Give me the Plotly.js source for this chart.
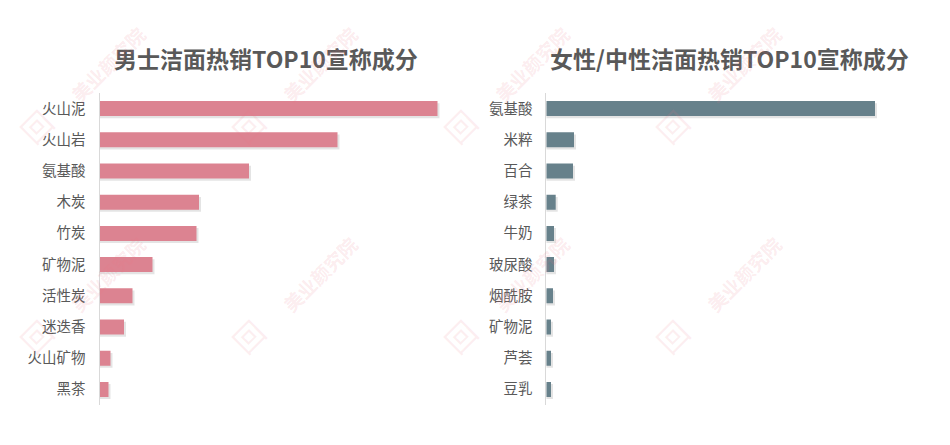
<!DOCTYPE html>
<html>
<head>
<meta charset="utf-8">
<script src="https://cdn.plot.ly/plotly-3.0.1.min.js"></script>
<style>html,body{margin:0;padding:0;background:#fff;}#chart{width:950px;height:445px;}</style>
</head>
<body>
<div id="chart"></div>
<script>
// Left chart: men's facial cleanser top-10 claimed ingredients
const menCategories = ["火山泥", "火山岩", "氨基酸", "木炭", "竹炭", "矿物泥", "活性炭", "迷迭香", "火山矿物", "黑茶"];
const menValues = [338, 238, 149.5, 99.5, 97, 53, 33, 24.5, 11, 9];

// Right chart: women's / unisex facial cleanser top-10 claimed ingredients
const womenCategories = ["氨基酸", "米粹", "百合", "绿茶", "牛奶", "玻尿酸", "烟酰胺", "矿物泥", "芦荟", "豆乳"];
const womenValues = [328.7, 27.7, 26.7, 9.4, 7.7, 7.7, 6.7, 4.7, 4.7, 4.7];

const titles = ["男士洁面热销TOP10宣称成分", "女性/中性洁面热销TOP10宣称成分"];
const watermarkText = "美业颜究院";

const W = 950, H = 445;
const px = v => v / W, py = v => 1 - v / H;

const pink = "#dc8391", teal = "#67818b";
const barW = 0.48;
const shadowShift = 0.07;

function shadowTrace(cats, vals, xa, ya) {
  return {
    type: "bar", orientation: "h", y: cats, x: vals.map(v => v + 2),
    xaxis: xa, yaxis: ya, width: barW, offset: -barW / 2 + shadowShift,
    marker: {color: "rgba(90,90,90,0.16)"}, hoverinfo: "skip", showlegend: false
  };
}
function mainTrace(cats, vals, xa, ya, color) {
  return {
    type: "bar", orientation: "h", y: cats, x: vals,
    xaxis: xa, yaxis: ya, width: barW, offset: -barW / 2,
    marker: {color: color}, showlegend: false
  };
}

const data = [
  shadowTrace(menCategories, menValues, "x", "y"),
  mainTrace(menCategories, menValues, "x", "y", pink),
  shadowTrace(womenCategories, womenValues, "x2", "y2"),
  mainTrace(womenCategories, womenValues, "x2", "y2", teal)
];

const tickFont = {family: "Noto Sans CJK SC, sans-serif", size: 14.5, color: "#595959"};
const yCommon = {
  type: "category", autorange: "reversed", showline: true, linecolor: "#d9d9d9", linewidth: 1,
  showgrid: false, zeroline: false, ticks: "", ticklabelstandoff: 10, tickfont: tickFont,
  domain: [py(405), py(93)], fixedrange: true
};
const xCommon = {showgrid: false, zeroline: false, showline: false, showticklabels: false, ticks: "", fixedrange: true};

const titleFont = {family: "Noto Sans CJK SC, sans-serif", size: 23, color: "#595959"};
const annotations = [
  {text: "<b>" + titles[0] + "</b>", x: px(266), y: py(58), xref: "paper", yref: "paper", showarrow: false,
   xanchor: "center", yanchor: "middle", font: titleFont},
  {text: "<b>" + titles[1] + "</b>", x: px(729), y: py(58), xref: "paper", yref: "paper", showarrow: false,
   xanchor: "center", yanchor: "middle", font: titleFont}
];

// faint diagonal watermarks (only those fully inside the picture)
const wmCols = [94, 306, 518, 730];
const wmRows = [70, 280];
wmRows.forEach(r => wmCols.forEach(c => {
  annotations.push({text: "<b>" + watermarkText + "</b>", x: px(c + 13), y: py(r - 6), xref: "paper", yref: "paper",
    showarrow: false, textangle: -45, xanchor: "center", yanchor: "middle",
    font: {family: "Noto Sans CJK SC, sans-serif", size: 19, color: "rgba(236,120,135,0.15)"}});
  annotations.push({text: "回", x: px(c - 58), y: py(r + 56), xref: "paper", yref: "paper",
    showarrow: false, textangle: -45, xanchor: "center", yanchor: "middle",
    font: {family: "Noto Sans CJK SC, sans-serif", size: 30, color: "rgba(236,120,135,0.13)"}});
}));

const layout = {
  width: W, height: H, margin: {l: 0, r: 0, t: 0, b: 0},
  paper_bgcolor: "#ffffff", plot_bgcolor: "rgba(0,0,0,0)",
  barmode: "overlay",
  xaxis: Object.assign({}, xCommon, {domain: [px(99.5), px(460)], range: [0, 360.5], anchor: "y"}),
  yaxis: Object.assign({}, yCommon, {anchor: "x"}),
  xaxis2: Object.assign({}, xCommon, {domain: [px(546.3), px(930)], range: [0, 383.7], anchor: "y2"}),
  yaxis2: Object.assign({}, yCommon, {anchor: "x2"}),
  annotations: annotations
};

Plotly.newPlot("chart", data, layout, {displayModeBar: false, staticPlot: true});
</script>
</body>
</html>
